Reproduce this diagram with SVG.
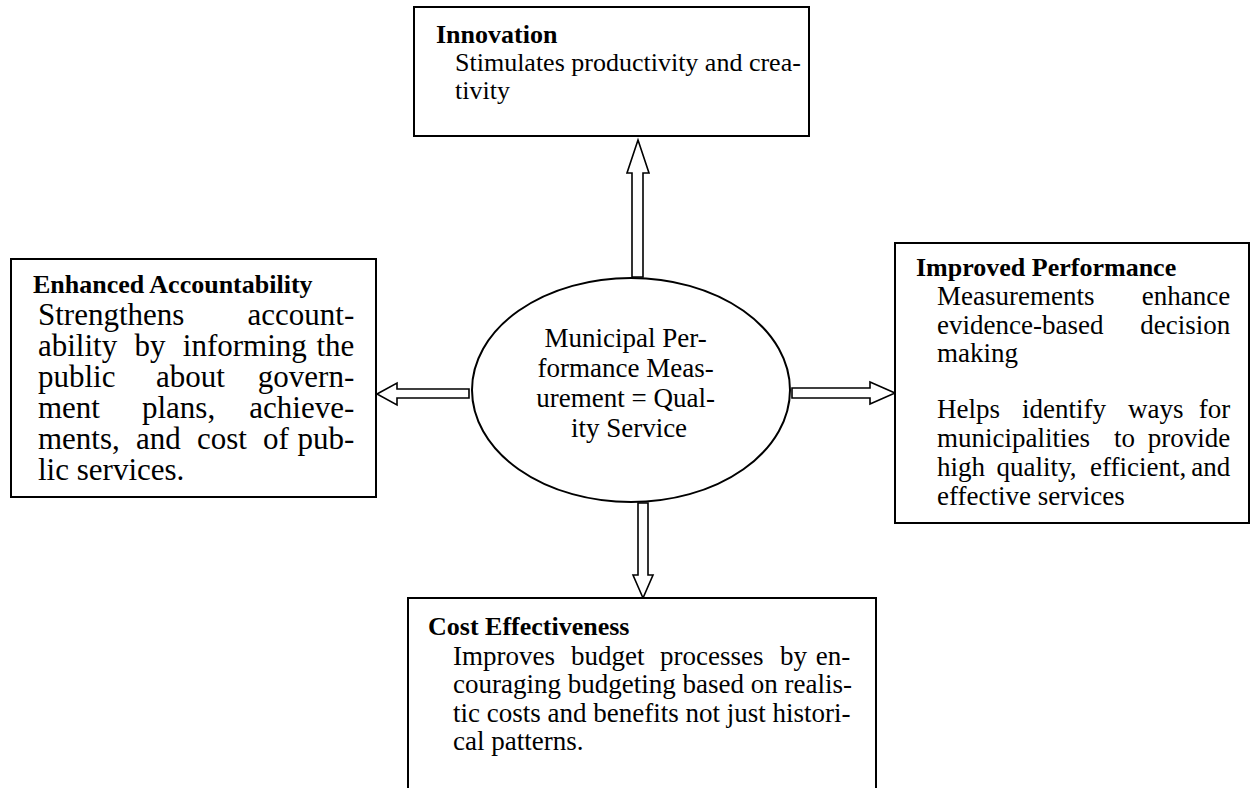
<svg xmlns="http://www.w3.org/2000/svg" width="1251" height="788" viewBox="0 0 1251 788">
  <style>
    .box { fill: #fff; stroke: #000; stroke-width: 2; }
    .arrow { fill: #fff; stroke: #000; stroke-width: 1.6; stroke-linejoin: miter; }
    .hub { fill: #fff; stroke: #000; stroke-width: 2; }
    text { font-family: "Liberation Serif", "Times New Roman", serif; fill: #000; }
    .title { font-size: 26px; font-weight: bold; }
    .body { font-size: 27px; }
    .big { font-size: 31px; }
    .hubtext { font-size: 27px; text-anchor: middle; }
    .end { text-anchor: end; }
  </style>
  <rect width="1251" height="788" fill="#fff"/>

  <!-- block arrows from the hub outwards -->
  <g id="connectors">
    <polygon class="arrow" points="638,140 649,173 643,173 643,277 632,277 632,173 627,173"/>
    <polygon class="arrow" points="377,394 397,383 397,389 469,389 469,398 397,398 397,405"/>
    <polygon class="arrow" points="895,393 870,382 870,388 792,388 792,398 870,398 870,404"/>
    <polygon class="arrow" points="643,598 633,575 638,575 638,503 648,503 648,575 653,575"/>
  </g>

  <g id="hub">
    <ellipse class="hub" cx="631" cy="390" rx="159" ry="112"/>
    <text class="hubtext">
      <tspan x="629" y="347">Municipal Per-</tspan>
      <tspan x="629" y="377">formance Meas-</tspan>
      <tspan x="629" y="407">urement = Qual-</tspan>
      <tspan x="629" y="437">ity Service</tspan>
    </text>
  </g>

  <g id="innovation">
    <rect class="box" x="414" y="7" width="395" height="129"/>
    <text class="title" x="436" y="43">Innovation</text>
    <text class="body" style="font-size:26px">
      <tspan x="455" y="71">Stimulates productivity and crea-</tspan>
      <tspan x="455" y="99">tivity</tspan>
    </text>
  </g>

  <g id="accountability">
    <rect class="box" x="11" y="259" width="365" height="238"/>
    <text class="title" x="33" y="293">Enhanced Accountability</text>
    <text class="big">
      <tspan x="38" y="325">Strengthens</tspan><tspan class="end" x="362" y="325">account-</tspan>
      <tspan x="38" y="356">ability</tspan><tspan x="134.5" y="356">by</tspan><tspan x="182.8" y="356">informing</tspan><tspan class="end" x="362" y="356">the</tspan>
      <tspan x="38" y="387">public</tspan><tspan x="156" y="387">about</tspan><tspan class="end" x="362" y="387">govern-</tspan>
      <tspan x="38" y="418">ment</tspan><tspan x="142" y="418">plans,</tspan><tspan class="end" x="362" y="418">achieve-</tspan>
      <tspan x="38" y="449">ments,</tspan><tspan x="136" y="449">and</tspan><tspan x="197" y="449">cost</tspan><tspan x="263" y="449">of</tspan><tspan class="end" x="362" y="449">pub-</tspan>
      <tspan x="38" y="480">lic services.</tspan>
    </text>
  </g>

  <g id="performance">
    <rect class="box" x="895" y="243" width="354" height="280"/>
    <text class="title" x="916" y="276">Improved Performance</text>
    <text class="body">
      <tspan x="937" y="305">Measurements</tspan><tspan class="end" x="1237" y="305">enhance</tspan>
      <tspan x="937" y="334">evidence-based</tspan><tspan class="end" x="1237" y="334">decision</tspan>
      <tspan x="937" y="362">making</tspan>
      <tspan x="937" y="418">Helps</tspan><tspan x="1022" y="418">identify</tspan><tspan x="1128" y="418">ways</tspan><tspan class="end" x="1237" y="418">for</tspan>
      <tspan x="937" y="447">municipalities</tspan><tspan x="1114" y="447">to</tspan><tspan class="end" x="1237" y="447">provide</tspan>
      <tspan x="937" y="476">high</tspan><tspan x="996.5" y="476">quality,</tspan><tspan x="1090" y="476">efficient,</tspan><tspan class="end" x="1237" y="476">and</tspan>
      <tspan x="937" y="505">effective services</tspan>
    </text>
  </g>

  <g id="cost">
    <rect class="box" x="408" y="598" width="468" height="200"/>
    <text class="title" x="428" y="635">Cost Effectiveness</text>
    <text class="body">
      <tspan x="453" y="665">Improves</tspan><tspan x="571" y="665">budget</tspan><tspan x="660" y="665">processes</tspan><tspan x="780" y="665">by</tspan><tspan class="end" x="857" y="665">en-</tspan>
      <tspan x="453" y="693">couraging budgeting based on realis-</tspan>
      <tspan x="453" y="722">tic costs and benefits not just histori-</tspan>
      <tspan x="453" y="750">cal patterns.</tspan>
    </text>
  </g>
</svg>
